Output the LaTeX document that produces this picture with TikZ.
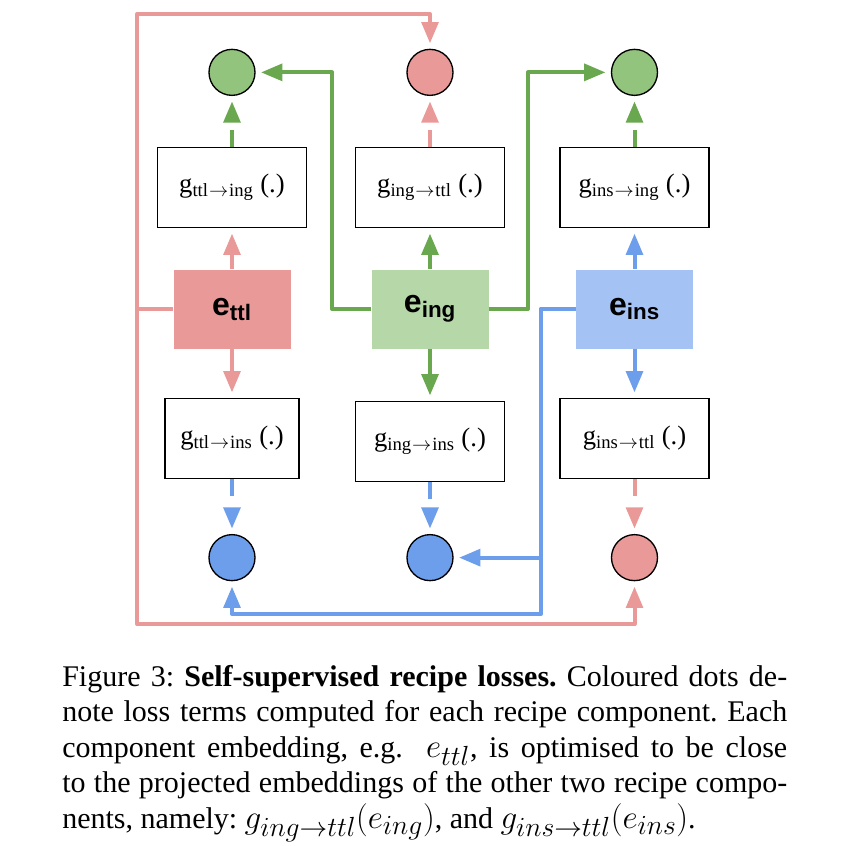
\documentclass[tikz,border=0pt]{standalone}
\usepackage{fontspec}
\setmainfont{Liberation Serif}
\newfontfamily\arialfont{Liberation Sans}
\usepackage{tikz}
\usetikzlibrary{positioning}
\usetikzlibrary{arrows.meta}
\definecolor{lossred}{HTML}{EA9999}
\definecolor{lossgreen}{HTML}{93C47D}
\definecolor{lossblue}{HTML}{6D9EEB}
\definecolor{linegreen}{HTML}{6AA84F}
\definecolor{embgreen}{HTML}{B6D7A8}
\definecolor{embblue}{HTML}{A4C2F4}
\newcommand{\gproj}[2]{g\textsubscript{#1\hspace{0.05em}$\rightarrow$\hspace{0.05em}#2}\ (.)}
\newcommand{\emb}[1]{e\textsubscript{#1}}
\newcommand{\capmath}[1]{{\fontsize{27.9}{26.6}\selectfont$#1$}}

\begin{document}
\begin{tikzpicture}[
x=0.75pt, y=-0.75pt,
embnode/.style={rectangle, minimum width=87.75pt, minimum height=59.25pt, inner sep=0pt, font=\arialfont\bfseries\fontsize{24}{27}\selectfont},
projnode/.style={rectangle, draw=black, line width=0.9pt, fill=white, minimum width=111.75pt, minimum height=60pt, inner sep=0pt, font=\fontsize{20}{23}\selectfont},
lossnode/.style={circle, draw=black, line width=1pt, minimum size=34.5pt, inner sep=0pt},
flowline/.style={line width=3pt, line join=round, -{Triangle[length=16pt, width=12.5pt]}, shorten >=4pt},
dashline/.style={dash pattern=on 13pt off 30pt},
]
\useasboundingbox (0,0) rectangle (868,846);

%Embeddings
\node[embnode, fill=lossred]	(ettl)	at (232,309)	{\emb{ttl}};
\node[embnode, fill=embgreen]	(eing)	at (430,309)	{\emb{ing}};
\node[embnode, fill=embblue]	(eins)	at (634.5,309)	{\emb{ins}};

%Projections
\node[projnode]		(gttling)	[above=30.75pt of ettl]		{\gproj{ttl}{ing}};
\node[projnode]		(gingttl)	[above=30.75pt of eing]		{\gproj{ing}{ttl}};
\node[projnode]		(ginsing)	[above=30.75pt of eins]		{\gproj{ins}{ing}};
\node[projnode, minimum width=100.5pt]	(gttlins)	[below=36.75pt of ettl]		{\gproj{ttl}{ins}};
\node[projnode]		(gingins)	[below=39pt of eing]		{\gproj{ing}{ins}};
\node[projnode]		(ginsttl)	[below=36.75pt of eins]		{\gproj{ins}{ttl}};

%Losses
\node[lossnode, fill=lossgreen]	(dttling)	[above=38.25pt of gttling]	{};
\node[lossnode, fill=lossred]	(dingttl)	[above=38.25pt of gingttl]	{};
\node[lossnode, fill=lossgreen]	(dinsing)	[above=38.25pt of ginsing]	{};
\node[lossnode, fill=lossblue]	(dttlins)	[below=41.25pt of gttlins]	{};
\node[lossnode, fill=lossblue]	(dingins)	[below=39pt of gingins]		{};
\node[lossnode, fill=lossred]	(dinsttl)	[below=41.25pt of ginsttl]	{};

%Corners
\coordinate (redtop)	at (137,14);
\coordinate (redbot)	at (137,624);
\coordinate (greenleft)	at (332,309);
\coordinate (greenright)	at (528,309);
\coordinate (bluejoint)	at (541,309);
\coordinate (bluebot)	at (541,614);

%Lines
\draw[flowline, lossred] (ettl) -- (gttling);
\draw[flowline, lossred] (ettl) -- (gttlins);
\draw[flowline, linegreen] (eing) -- (gingttl);
\draw[flowline, linegreen] (eing) -- (gingins);
\draw[flowline, lossblue] (eins) -- (ginsing);
\draw[flowline, lossblue] (eins) -- (ginsttl);

%Dashed lines
\draw[flowline, dashline, linegreen] (gttling) -- (dttling);
\draw[flowline, dashline, lossred] (gingttl) -- (dingttl);
\draw[flowline, dashline, linegreen] (ginsing) -- (dinsing);
\draw[flowline, dashline, lossblue] (gttlins) -- (dttlins);
\draw[flowline, dashline, lossblue] (gingins) -- (dingins);
\draw[flowline, dashline, lossred] (ginsttl) -- (dinsttl);

%Long lines
\draw[flowline, lossred] (ettl.west) -| (redtop) -| (dingttl);
\draw[flowline, lossred] (ettl.west) -| (redbot) -| (dinsttl);
\draw[flowline, linegreen] (eing.west) -- (greenleft) |- (dttling);
\draw[flowline, linegreen] (eing.east) -- (greenright) |- (dinsing);
\draw[flowline, lossblue] (eins.west) -- (bluejoint) |- (dingins);
\draw[flowline, lossblue] (eins.west) -- (bluejoint) -- (bluebot) -| (dttlins);

%Caption
\node[anchor=north west, text width=543.75pt, align=justify, inner sep=0pt, font=\fontsize{22.5}{26.6}\selectfont\frenchspacing] (caption) at (62,665)
{Figure 3: \textbf{Self-supervised recipe losses.} Coloured dots de-\linebreak
note loss terms computed for each recipe component. Each\linebreak
component embedding, e.g.\ \ \capmath{e_{ttl}}, is optimised to be close\linebreak
to the projected embeddings of the other two recipe compo-\linebreak
nents, namely: \capmath{g_{ing\rightarrow ttl}(e_{ing})}, and \capmath{g_{ins\rightarrow ttl}(e_{ins})}.};
\end{tikzpicture}
\end{document}
